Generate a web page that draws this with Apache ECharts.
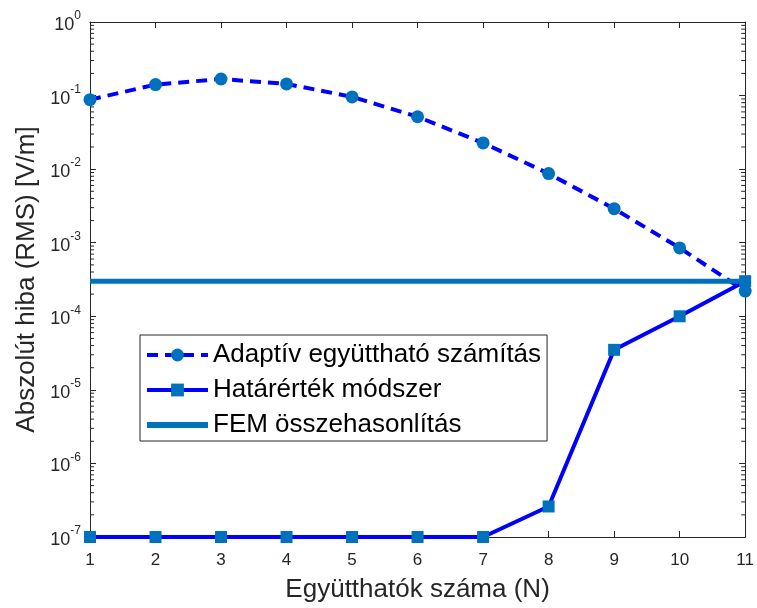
<!DOCTYPE html>
<html>
<head>
<meta charset="utf-8">
<script src="https://cdn.jsdelivr.net/npm/echarts@6/dist/echarts.min.js"></script>
<style>
  html, body { margin: 0; padding: 0; background: #fff; }
  #main { width: 757px; height: 608px; }
</style>
</head>
<body>
<div id="main"></div>
<script>
// N values on the x axis
var nValues = [1, 2, 3, 4, 5, 6, 7, 8, 9, 10, 11];
// Adaptív együttható számítás (circles, dashed)
var adaptive = [0.088, 0.141, 0.168, 0.144, 0.096, 0.0515, 0.0227, 0.0087, 0.0029, 0.00085, 0.00022];
// Határérték módszer (squares, solid)
var boundary = [1e-7, 1e-7, 1e-7, 1e-7, 1e-7, 1e-7, 1e-7, 2.6e-7, 3.5e-5, 1e-4, 3e-4];
// FEM összehasonlítás (constant reference)
var femLevel = 3e-4;

var FONT = '"Liberation Sans", Arial, Helvetica, sans-serif';
var AXIS_COLOR = '#262626';

// minor log ticks 2..9 in each decade
var minorTicks = [];
for (var e = -7; e < 0; e++) {
  for (var m = 2; m <= 9; m++) minorTicks.push([1, m * Math.pow(10, e)]);
}

function pairs(ys) {
  return nValues.map(function (n, i) { return [n, ys[i]]; });
}

var chart = echarts.init(document.getElementById('main'), null, { renderer: 'canvas' });

var supLabel = {
  formatter: function (v) {
    var ex = Math.round(Math.log10(v));
    return '{b|10}{s|' + ex + '}';
  },
  margin: 9,
  rich: {
    b: { fontSize: 18, fontFamily: FONT, color: AXIS_COLOR, lineHeight: 24, verticalAlign: 'bottom' },
    s: { fontSize: 12, fontFamily: FONT, color: AXIS_COLOR, lineHeight: 24, verticalAlign: 'top' }
  }
};

var option = {
  animation: false,
  backgroundColor: '#fff',
  grid: { left: 90, right: 10, top: 22, bottom: 68, containLabel: false },
  legend: {
    data: [
      { name: 'Adaptív együttható számítás' },
      { name: 'Határérték módszer' },
      { name: 'FEM összehasonlítás', icon: 'path://M0,0H61V6H0Z' }
    ],
    orient: 'vertical',
    left: 140,
    top: 335,
    padding: [4, 6, 0, 5],
    itemGap: 3,
    itemWidth: 61,
    itemHeight: 16,
    backgroundColor: '#fff',
    borderColor: AXIS_COLOR,
    borderWidth: 1,
    borderRadius: 0,
    lineStyle: { width: 'inherit' },
    textStyle: { fontSize: 26, lineHeight: 32, fontFamily: FONT, color: '#000' }
  },
  xAxis: [{
    type: 'value',
    min: 1, max: 11, interval: 1,
    name: 'Együtthatók száma (N)',
    nameLocation: 'middle',
    nameGap: 40,
    nameTextStyle: { fontSize: 26, fontFamily: FONT, color: AXIS_COLOR },
    axisLine: { lineStyle: { color: AXIS_COLOR, width: 1 } },
    axisTick: { inside: true, length: 6, lineStyle: { color: AXIS_COLOR } },
    axisLabel: { fontSize: 17, fontFamily: FONT, color: AXIS_COLOR, margin: 15 },
    splitLine: { show: false }
  }, {
    type: 'value',
    position: 'top',
    min: 1, max: 11, interval: 1,
    axisLine: { lineStyle: { color: AXIS_COLOR, width: 1 } },
    axisTick: { inside: true, length: 6, lineStyle: { color: AXIS_COLOR } },
    axisLabel: { show: false },
    splitLine: { show: false }
  }],
  yAxis: [{
    type: 'log',
    logBase: 10,
    min: 1e-7, max: 1,
    splitNumber: 7,
    name: 'Abszolút hiba (RMS) [V/m]',
    nameLocation: 'middle',
    nameGap: 50,
    nameTextStyle: { fontSize: 26, fontFamily: FONT, color: AXIS_COLOR },
    axisLine: { show: true, lineStyle: { color: AXIS_COLOR, width: 1 } },
    axisTick: { inside: true, length: 6, lineStyle: { color: AXIS_COLOR } },
    axisLabel: supLabel,
    splitLine: { show: false }
  }, {
    type: 'log',
    logBase: 10,
    position: 'right',
    min: 1e-7, max: 1,
    splitNumber: 7,
    axisLine: { show: true, lineStyle: { color: AXIS_COLOR, width: 1 } },
    axisTick: { inside: true, length: 6, lineStyle: { color: AXIS_COLOR } },
    axisLabel: { show: false },
    splitLine: { show: false }
  }],
  series: [{
    name: 'minor',
    type: 'custom',
    silent: true,
    data: minorTicks,
    renderItem: function (params, api) {
      var v = api.value(1);
      var l = api.coord([1, v]);
      var r = api.coord([11, v]);
      var st = { stroke: AXIS_COLOR, lineWidth: 1 };
      return {
        type: 'group',
        children: [
          { type: 'line', shape: { x1: l[0], y1: l[1], x2: l[0] + 4, y2: l[1] }, style: st },
          { type: 'line', shape: { x1: r[0], y1: r[1], x2: r[0] - 4, y2: r[1] }, style: st }
        ]
      };
    },
    z: 1
  }, {
    name: 'Adaptív együttható számítás',
    type: 'line',
    data: pairs(adaptive),
    symbol: 'circle',
    symbolSize: 13,
    clip: false,
    lineStyle: { color: '#0000ff', width: 4, type: [11, 7] },
    itemStyle: { color: '#0072bd' },
    z: 3
  }, {
    name: 'Határérték módszer',
    type: 'line',
    data: pairs(boundary),
    symbol: 'rect',
    symbolSize: 12,
    clip: false,
    lineStyle: { color: '#0000ff', width: 4 },
    itemStyle: { color: '#0072bd' },
    z: 3
  }, {
    name: 'FEM összehasonlítás',
    type: 'line',
    data: [[1, femLevel], [11, femLevel]],
    symbol: 'none',
    clip: false,
    lineStyle: { color: '#0072bd', width: 5 },
    itemStyle: { color: '#0072bd' },
    z: 4
  }]
};

chart.setOption(option);
</script>
</body>
</html>
